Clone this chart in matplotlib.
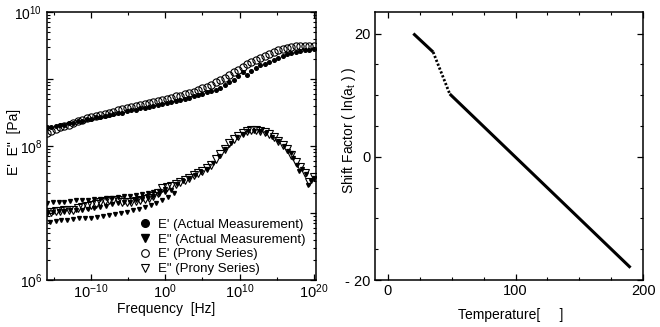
import numpy as np
import matplotlib
matplotlib.use("Agg")
import matplotlib.pyplot as plt
from matplotlib.ticker import FixedLocator, MultipleLocator, FuncFormatter, LogLocator, NullFormatter

plt.rcParams['font.family'] = ['Liberation Sans', 'DejaVu Sans']
plt.rcParams['mathtext.fontset'] = 'custom'
plt.rcParams['mathtext.rm'] = 'Liberation Sans'
plt.rcParams['mathtext.it'] = 'Liberation Sans:italic'
plt.rcParams['mathtext.default'] = 'regular'
plt.rcParams['font.size'] = 10

# log10(frequency [Hz]) grid
logf = [-16.0, -15.4, -14.8, -14.2, -13.6, -13.0, -12.4, -11.8, -11.2, -10.6,
        -10.0, -9.4, -8.8, -8.2, -7.6, -7.0, -6.4, -5.8, -5.2, -4.6,
        -4.0, -3.4, -2.8, -2.2, -1.6, -1.0, -0.4, 0.2, 0.8, 1.4,
        2.0, 2.6, 3.2, 3.8, 4.4, 5.0, 5.6, 6.2, 6.8, 7.4,
        8.0, 8.6, 9.2, 9.8, 10.4, 11.0, 11.6, 12.2, 12.8, 13.4,
        14.0, 14.6, 15.2, 15.8, 16.4, 17.0, 17.6, 18.2, 18.8, 19.4, 20.0]

# log10(E') Prony series
e1_prony = [8.20, 8.23, 8.25, 8.28, 8.30, 8.32, 8.35, 8.37, 8.39, 8.42,
            8.44, 8.45, 8.47, 8.48, 8.50, 8.51, 8.53, 8.55, 8.56, 8.58,
            8.59, 8.61, 8.62, 8.64, 8.65, 8.67, 8.69, 8.70, 8.72, 8.74,
            8.75, 8.77, 8.79, 8.81, 8.83, 8.86, 8.88, 8.91, 8.95, 8.98,
            9.02, 9.06, 9.10, 9.14, 9.18, 9.22, 9.26, 9.29, 9.32, 9.35,
            9.38, 9.41, 9.43, 9.45, 9.47, 9.48, 9.49, 9.50, 9.50, 9.50, 9.50]

# log10(E') measured
e1_meas = [8.28, 8.29, 8.30, 8.31, 8.32, 8.34, 8.35, 8.37, 8.38, 8.40,
           8.41, 8.43, 8.44, 8.45, 8.46, 8.48, 8.49, 8.50, 8.52, 8.53,
           8.54, 8.56, 8.57, 8.58, 8.60, 8.61, 8.63, 8.64, 8.66, 8.67,
           8.69, 8.70, 8.72, 8.74, 8.76, 8.78, 8.80, 8.82, 8.84, 8.87,
           8.91, 8.95, 8.99, 9.04, 9.10, 9.06, 9.12, 9.16, 9.21, 9.23,
           9.26, 9.29, 9.32, 9.34, 9.37, 9.39, 9.41, 9.42, 9.43, 9.44, 9.45]

# log10(E'') Prony series
e2_prony = [7.02, 7.02, 7.03, 7.03, 7.04, 7.04, 7.05, 7.07, 7.09, 7.10,
            7.12, 7.14, 7.16, 7.18, 7.19, 7.20, 7.19, 7.17, 7.16, 7.16,
            7.18, 7.19, 7.21, 7.22, 7.25, 7.30, 7.37, 7.39, 7.41, 7.44,
            7.47, 7.50, 7.52, 7.56, 7.59, 7.63, 7.67, 7.72, 7.80, 7.88,
            7.96, 8.04, 8.10, 8.15, 8.19, 8.22, 8.24, 8.24, 8.23, 8.21,
            8.18, 8.13, 8.07, 8.02, 7.96, 7.86, 7.76, 7.68, 7.60, 7.47, 7.54]

# log10(E'') measured (three temperature branches at low frequency)
e2_meas_f = [-16.0, -15.2, -14.4, -13.6, -12.8, -12.0, -11.2, -10.4, -9.6, -8.8,
             -8.0, -7.2, -6.4, -5.6, -4.8, -4.0, -3.2, -2.4, -1.6, -0.8, 0.0,
             -16.0, -15.2, -14.4, -13.6, -12.8, -12.0, -11.2, -10.4, -9.6, -8.8,
             -8.0, -7.2, -6.4, -5.6, -4.8, -4.0, -3.2, -2.4, -1.6, -0.8, 0.0, 0.8,
             -15.6, -14.8, -14.0, -13.2, -12.4, -11.6, -10.8, -10.0, -9.2, -8.4,
             -7.6, -6.8, -6.0, -5.2, -4.4, -3.6, -2.8, -2.0, -1.2, -0.4, 0.4, 1.2,
             1.6, 2.4, 3.2, 4.0, 4.8, 5.6, 6.4, 7.2, 8.0, 8.8, 9.6, 10.4, 11.2,
             12.0, 12.8, 13.6, 14.4, 15.2, 16.0, 16.6, 17.2, 17.8, 18.4, 19.0,
             19.6, 20.0, 17.0, 18.0, 19.2]
e2_meas = [7.15, 7.16, 7.16, 7.17, 7.18, 7.19, 7.19, 7.20, 7.21, 7.21,
           7.22, 7.23, 7.24, 7.25, 7.26, 7.27, 7.28, 7.30, 7.31, 7.33, 7.36,
           7.02, 7.02, 7.03, 7.03, 7.04, 7.05, 7.05, 7.06, 7.07, 7.09,
           7.11, 7.13, 7.15, 7.16, 7.17, 7.19, 7.21, 7.23, 7.25, 7.28, 7.31, 7.35,
           6.87, 6.88, 6.89, 6.90, 6.91, 6.92, 6.92, 6.93, 6.94, 6.95,
           6.97, 6.98, 7.00, 7.02, 7.04, 7.06, 7.09, 7.12, 7.15, 7.19, 7.24, 7.30,
           7.43, 7.48, 7.52, 7.57, 7.61, 7.66, 7.74, 7.85, 7.95, 8.05, 8.13, 8.18, 8.22,
           8.23, 8.22, 8.19, 8.14, 8.08, 8.00, 7.93, 7.82, 7.72, 7.66, 7.58,
           7.48, 7.52, 7.90, 7.62, 7.42]

# shift factor vs temperature (breakpoints)
temp = [20, 35.5, 48.5, 190]
shift = [20.0, 17.0, 10.2, -18.0]

fig = plt.figure(figsize=(6.6, 3.27), dpi=100)
ax1 = fig.add_axes([0.0707, 0.1437, 0.408, 0.8196])
ax2 = fig.add_axes([0.5682, 0.1437, 0.4065, 0.8196])

f = 10.0 ** np.array(logf)
ax1.plot(f, 10.0 ** np.array(e1_meas), 'o', color='black', ms=2.6, ls='none',
         label="E' (Actual Measurement)", zorder=3)
ax1.plot(10.0 ** np.array(e2_meas_f), 10.0 ** np.array(e2_meas), 'v', color='black',
         ms=2.8, ls='none', label='E" (Actual Measurement)', zorder=3)
ax1.plot(f, 10.0 ** np.array(e1_prony), 'o', mfc='none', mec='black', mew=0.8,
         ms=5.2, ls='none', label="E' (Prony Series)", zorder=2)
ax1.plot(f, 10.0 ** np.array(e2_prony), 'v', mfc='none', mec='black', mew=0.8,
         ms=5.6, ls='none', label='E" (Prony Series)', zorder=2)

ax1.set_xscale('log')
ax1.set_yscale('log')
ax1.set_xlim(10 ** -16.0, 10 ** 20.3)
ax1.set_ylim(1e6, 1e10)
ax1.xaxis.set_major_locator(FixedLocator([1e-10, 1e0, 1e10, 1e20]))
ax1.xaxis.set_minor_locator(FixedLocator([1e-15, 1e-5, 1e5, 1e15]))
ax1.xaxis.set_minor_formatter(NullFormatter())
ax1.xaxis.set_major_formatter(FuncFormatter(lambda v, p: r'$10^{%d}$' % round(np.log10(v))))
ax1.yaxis.set_major_locator(LogLocator(base=10, numticks=10))
ax1.yaxis.set_minor_locator(LogLocator(base=10, subs=np.arange(2, 10), numticks=10))
ax1.yaxis.set_minor_formatter(NullFormatter())
ax1.yaxis.set_major_formatter(FuncFormatter(
    lambda v, p: r'$10^{%d}$' % round(np.log10(v)) if round(np.log10(v)) % 2 == 0 else ''))

ax1.set_xlabel('Frequency  [Hz]')
ax1.xaxis.set_label_coords(0.443, -0.082)
ax1.set_ylabel("E'  E\"  [Pa]")
ax1.yaxis.set_label_coords(-0.095, 0.515)

leg = ax1.legend(loc='lower right', bbox_to_anchor=(0.997, -0.017), frameon=False,
                 fontsize=9.5, borderpad=0.2, labelspacing=0.2,
                 handlelength=0.8, handletextpad=0.6)
for h in leg.legend_handles:
    h.set_markersize(5.5)

ax2.plot(temp[:2], shift[:2], color='black', lw=2.2, solid_capstyle='butt')
ax2.plot(temp[1:3], shift[1:3], color='black', lw=2.0, ls=(0, (0.8, 0.7)))
ax2.plot(temp[2:], shift[2:], color='black', lw=2.2, solid_capstyle='butt')
ax2.set_xlim(-10, 200)
ax2.set_ylim(-20, 23.5)
ax2.xaxis.set_major_locator(MultipleLocator(100))
ax2.xaxis.set_minor_locator(MultipleLocator(25))
ax2.yaxis.set_major_locator(MultipleLocator(20))
ax2.yaxis.set_minor_locator(MultipleLocator(5))
ax2.yaxis.set_major_formatter(FuncFormatter(lambda v, p: '- %d' % abs(v) if v < 0 else '%d' % v))
ax2.set_xlabel('Temperature[     ]')
ax2.xaxis.set_label_coords(0.507, -0.105)
ax2.set_ylabel(r'Shift Factor ( ln(a$_t$ ) )')
ax2.yaxis.set_label_coords(-0.062, 0.56)

for ax in (ax1, ax2):
    ax.tick_params(which='both', direction='in', top=True, right=True, labelsize=10.5, pad=3)
    ax.tick_params(which='major', length=4, width=0.9)
    ax.tick_params(which='minor', length=2.5, width=0.8)
    for s in ax.spines.values():
        s.set_linewidth(1.1)
ax1.tick_params(axis='x', pad=2)
ax1.tick_params(axis='y', labelsize=10)

fig.savefig('out.png', dpi=100)
plt.close(fig)
